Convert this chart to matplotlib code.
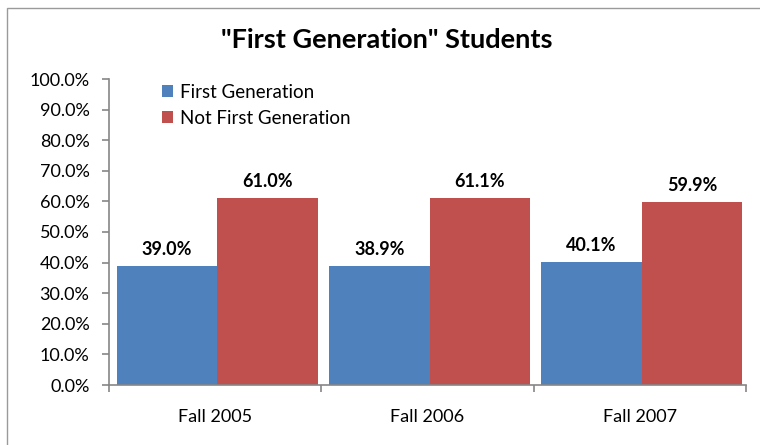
import numpy as np
import matplotlib.pyplot as plt
from matplotlib.patches import Rectangle

plt.rcParams['font.family'] = ['Lato', 'DejaVu Sans']

# data
terms = ['Fall 2005', 'Fall 2006', 'Fall 2007']
first_gen = [39.0, 38.9, 40.1]
not_first_gen = [61.0, 61.1, 59.9]
yticks = np.arange(0, 101, 10)

blue = '#4f81bd'
red = '#c0504d'
grey = '#868686'

fig = plt.figure(figsize=(7.6, 4.45), dpi=100)
ax = fig.add_axes([109 / 760, 1 - 385 / 445, 637 / 760, 306 / 445])

# outer chart frame (cropped at right and bottom like the original)
fig.patches.append(Rectangle((7 / 760, -0.1), 1.2, 1 - 8 / 445 + 0.1,
                             transform=fig.transFigure, fill=False,
                             edgecolor='#9a9a9a', linewidth=1.0))

x = np.arange(len(terms))
w = 0.4735
b1 = ax.bar(x - w / 2 + 0.01, first_gen, w, color=blue, label='First Generation')
b2 = ax.bar(x + w / 2 + 0.01, not_first_gen, w, color=red, label='Not First Generation')

for bars, vals in ((b1, first_gen), (b2, not_first_gen)):
    for rect, v in zip(bars, vals):
        ax.text(rect.get_x() + rect.get_width() / 2, v + 2.6, '%.1f%%' % v,
                ha='center', va='bottom', fontsize=13, fontweight='bold')

ax.set_xlim(-0.5, len(terms) - 0.5)
ax.set_ylim(0, 100)
ax.set_yticks(yticks)
ax.set_yticklabels(['%.1f%%' % t for t in yticks], fontsize=13)
ax.set_xticks(np.arange(-0.5, len(terms), 1.0))
ax.set_xticklabels([])
ax.set_xticks(x, minor=True)
ax.set_xticklabels(terms, minor=True, fontsize=13)
ax.tick_params(axis='x', which='minor', length=0, pad=17)
ax.tick_params(axis='x', which='major', length=5, color=grey, width=1.2)
ax.tick_params(axis='y', length=5, color=grey, width=1.2, pad=9)

for s in ['top', 'right']:
    ax.spines[s].set_visible(False)
for s in ['left', 'bottom']:
    ax.spines[s].set_color(grey)
    ax.spines[s].set_linewidth(1.2)

ax.legend(loc='upper left', bbox_to_anchor=(0.057, 1.04), frameon=False,
          fontsize=13.5, handlelength=0.6, handleheight=0.6, handletextpad=0.35,
          labelspacing=0.5)

fig.text(387 / 760, 1 - 40 / 445, '"First Generation" Students', ha='center',
         va='center', fontsize=19.5, fontweight='bold')

fig.savefig('out.png', dpi=100)
